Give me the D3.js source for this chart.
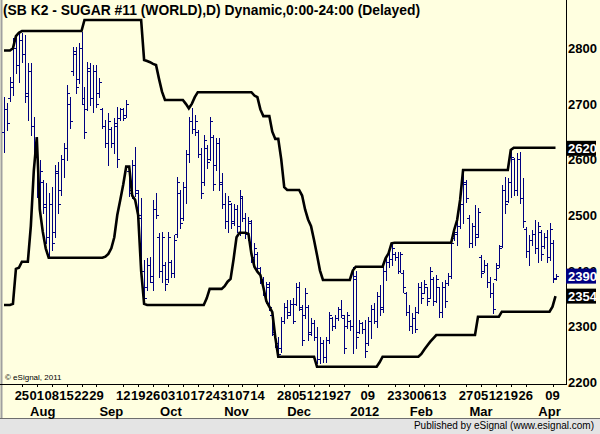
<!DOCTYPE html>
<html><head><meta charset="utf-8">
<script src="https://cdn.jsdelivr.net/npm/d3@7/dist/d3.min.js"></script>
<style>
html,body{margin:0;padding:0;background:#FFFFE0;}
svg{display:block;}
text{font-family:"Liberation Sans",Arial,sans-serif;}
</style></head>
<body><svg id="c" width="600" height="434"></svg>
<script>
// ---- DATA ----
const title = "(SB K2 - SUGAR #11 (WORLD),D) Dynamic,0:00-24:00 (Delayed)";
const startDate = "2011-07-15", endDate = "2012-04-10";
const holidays = ["2011-09-05","2011-11-24","2011-12-26","2012-01-02","2012-01-16","2012-02-20","2012-04-06"];
const yTicks = [2200,2300,2400,2500,2600,2700,2800];
const dayLabels = ["2011-07-25","2011-08-01","2011-08-08","2011-08-15","2011-08-22","2011-08-29","2011-09-12","2011-09-19","2011-09-26","2011-10-03","2011-10-10","2011-10-17","2011-10-24","2011-10-31","2011-11-07","2011-11-14","2011-11-28","2011-12-05","2011-12-12","2011-12-19","2011-12-27","2012-01-09","2012-01-23","2012-01-30","2012-02-06","2012-02-13","2012-02-27","2012-03-05","2012-03-12","2012-03-19","2012-03-26","2012-04-09"];
const monthLabels = [["Aug","2011-08-03"],["Sep","2011-09-06"],["Oct","2011-10-04"],["Nov","2011-11-03"],["Dec","2011-12-05"],["2012","2012-01-06"],["Feb","2012-02-03"],["Mar","2012-03-05"],["Apr","2012-04-05"]];

const highs = [2713,2701,2749,2818,2824,2827,2827,2824,2773,2773, 2677,2641,2599,2563,2557,2539,2551,2590,2596,2608,
 2629,2734,2713,2803,2803,2809,2830,2731,2776,2773, 2770,2770,2746,2692,2671,2683,2659,2674,2695,2692,
 2692,2707,2587,2599,2623,2545,2530,2419,2422,2425, 2527,2540,2467,2470,2416,2470,2419,2464,2569,2545,
 2560,2617,2677,2692,2680,2653,2620,2644,2626,2677, 2644,2639,2639,2576,2540,2535,2522,2520,2518,2545,
 2535,2503,2497,2491,2449,2434,2407,2389,2380,2380, 2323,2287,2281,2317,2341,2347,2347,2350,2377,2380,
 2338,2368,2338,2314,2311,2299,2281,2275,2281,2326, 2317,2320,2335,2347,2320,2326,2311,2407,2400,2311,
 2308,2311,2317,2338,2341,2362,2374,2407,2422,2431, 2449,2434,2434,2434,2401,2362,2338,2323,2335,2377,
 2380,2383,2371,2407,2389,2392,2371,2380,2383,2395, 2455,2473,2491,2527,2581,2563,2500,2485,2518,2512,
 2428,2419,2413,2389,2377,2413,2446,2554,2569,2566, 2617,2602,2611,2614,2566,2479,2464,2473,2491,2488,
 2473,2467,2473,2485,2455,2394];
const lows = [2614,2653,2705,2716,2755,2740,2776,2704,2671,2644, 2605,2533,2500,2503,2449,2422,2437,2461,2503,2536,
 2569,2599,2656,2752,2719,2737,2701,2638,2689,2698, 2686,2695,2713,2656,2623,2590,2623,2611,2587,2671,
 2671,2677,2535,2530,2535,2488,2383,2341,2365,2380, 2365,2494,2389,2380,2365,2380,2389,2389,2461,2476,
 2491,2521,2596,2647,2644,2605,2530,2554,2585,2599, 2545,2581,2545,2512,2476,2470,2476,2482,2470,2464,
 2489,2458,2455,2416,2410,2401,2377,2356,2341,2329, 2284,2263,2245,2254,2305,2314,2320,2305,2338,2329,
 2266,2314,2275,2284,2275,2233,2233,2236,2236,2269, 2293,2296,2311,2317,2251,2296,2293,2251,2260,2287,
 2287,2245,2266,2278,2305,2299,2320,2326,2383,2407, 2410,2419,2395,2398,2362,2320,2293,2287,2290,2323,
 2341,2359,2338,2350,2338,2344,2317,2317,2335,2374, 2386,2455,2446,2476,2485,2524,2443,2443,2446,2461,
 2389,2398,2371,2353,2323,2383,2407,2443,2503,2524, 2533,2536,2536,2521,2479,2425,2410,2446,2431,2416,
 2419,2440,2416,2419,2380,2385];
const opens = [2650,2690,2710,2730,2800,2770,2815,2790,2720,2760, 2660,2620,2545,2560,2520,2460,2520,2470,2575,2545,
 2600,2620,2700,2760,2790,2745,2800,2700,2690,2760, 2710,2760,2720,2690,2660,2630,2655,2630,2660,2675,
 2690,2680,2580,2540,2590,2540,2500,2400,2370,2410, 2380,2510,2460,2400,2410,2385,2415,2395,2465,2540,
 2495,2550,2610,2670,2655,2650,2610,2560,2620,2600, 2640,2590,2630,2560,2520,2490,2520,2490,2510,2480,
 2530,2495,2465,2485,2425,2430,2405,2385,2360,2370, 2320,2285,2270,2260,2310,2335,2325,2340,2340,2370,
 2330,2320,2335,2290,2305,2280,2240,2270,2245,2275, 2315,2300,2315,2330,2315,2300,2310,2300,2385,2290,
 2305,2295,2270,2310,2330,2310,2355,2335,2400,2415, 2420,2430,2425,2400,2395,2360,2325,2300,2315,2325,
 2370,2360,2370,2350,2385,2345,2370,2325,2370,2378, 2390,2458,2465,2480,2520,2555,2495,2450,2480,2465,
 2425,2400,2410,2380,2360,2385,2410,2445,2545,2525, 2560,2600,2545,2600,2530,2475,2435,2455,2465,2440,
 2470,2445,2460,2425,2450,2387];
const closes = [2690,2665,2740,2800,2770,2815,2790,2715,2760,2660, 2620,2545,2580,2515,2460,2520,2450,2580,2520,2600,
 2620,2720,2670,2795,2730,2800,2710,2650,2765,2710, 2760,2700,2740,2660,2630,2670,2630,2665,2600,2690,
 2675,2700,2545,2590,2545,2495,2400,2350,2410,2390, 2510,2500,2400,2460,2375,2460,2395,2455,2560,2485,
 2550,2610,2670,2655,2670,2610,2540,2635,2595,2670, 2555,2630,2555,2520,2490,2525,2485,2510,2480,2535,
 2495,2465,2490,2425,2440,2405,2385,2360,2375,2335, 2290,2270,2250,2310,2335,2320,2340,2310,2370,2335,
 2275,2360,2285,2305,2280,2240,2270,2245,2275,2320, 2300,2315,2330,2320,2260,2320,2300,2390,2280,2305,
 2295,2255,2310,2330,2310,2355,2330,2400,2415,2420, 2440,2425,2400,2430,2370,2325,2300,2315,2295,2370,
 2350,2375,2345,2400,2345,2385,2325,2370,2345,2390, 2450,2470,2480,2520,2560,2530,2450,2480,2460,2505,
 2395,2410,2380,2360,2330,2405,2440,2545,2520,2560, 2605,2545,2600,2530,2490,2435,2455,2465,2440,2480,
 2430,2460,2425,2475,2385,2390];
const upper = [2796,2796,2796,2800,2822,2828,2831,2831,2831,2831, 2831,2831,2831,2831,2831,2831,2831,2831,2831,2831,
 2831,2831,2831,2831,2831,2831,2831,2851,2851,2851, 2851,2851,2851,2851,2851,2851,2851,2851,2851,2851,
 2851,2851,2851,2851,2851,2851,2851,2779,2777,2775, 2772,2770,2745,2722,2707,2707,2707,2707,2707,2707,
 2707,2700,2692,2700,2712,2721,2721,2721,2721,2721, 2721,2721,2721,2721,2721,2721,2721,2721,2721,2721,
 2721,2721,2721,2721,2715,2712,2690,2678,2678,2678, 2650,2637,2637,2600,2550,2545,2545,2545,2545,2545,
 2535,2510,2492,2480,2455,2428,2400,2383,2383,2383, 2383,2383,2383,2383,2383,2383,2383,2400,2407,2407,
 2407,2407,2407,2407,2407,2407,2407,2407,2422,2431, 2449,2450,2450,2450,2450,2450,2450,2450,2450,2450,
 2450,2450,2450,2450,2450,2450,2450,2450,2450,2450, 2450,2473,2491,2527,2581,2581,2581,2581,2581,2581,
 2581,2581,2581,2581,2581,2581,2581,2581,2581,2581, 2617,2621,2621,2621,2621,2621,2621,2621,2621,2621,
 2621,2621,2621,2621,2621,2621];
const lower = [2338,2338,2338,2340,2403,2405,2416,2416,2416,2480, 2580,2640,2510,2470,2440,2423,2423,2423,2423,2423,
 2423,2423,2423,2423,2423,2423,2423,2423,2423,2423, 2423,2423,2423,2423,2425,2430,2440,2460,2500,2527,
 2555,2587,2587,2535,2527,2500,2400,2340,2338,2338, 2338,2338,2338,2338,2338,2338,2338,2338,2338,2338,
 2338,2338,2338,2338,2338,2338,2338,2338,2350,2367, 2367,2367,2367,2367,2372,2380,2385,2420,2460,2468,
 2468,2468,2466,2430,2407,2398,2392,2370,2345,2335, 2325,2280,2245,2245,2245,2245,2245,2245,2245,2245,
 2245,2245,2245,2245,2245,2227,2227,2227,2227,2227, 2227,2227,2227,2227,2227,2227,2227,2227,2227,2227,
 2227,2227,2227,2227,2227,2227,2235,2245,2245,2245, 2245,2245,2245,2245,2245,2245,2245,2245,2245,2245,
 2250,2258,2265,2272,2278,2284,2284,2284,2284,2284, 2284,2284,2284,2284,2284,2284,2284,2284,2284,2317,
 2317,2317,2317,2317,2317,2317,2317,2326,2326,2326, 2326,2326,2326,2326,2326,2326,2326,2326,2326,2326,
 2326,2326,2326,2326,2335,2354];
const markers = [[2620,"#000000"],[2390,"#000080"],[2354,"#000000"]];

// ---- build trading days ----
const fmt = d3.timeFormat("%Y-%m-%d"), parse = d3.timeParse("%Y-%m-%d");
const dates = d3.timeDay.range(parse(startDate), d3.timeDay.offset(parse(endDate),1))
  .filter(d => d.getDay()!==0 && d.getDay()!==6 && !holidays.includes(fmt(d))).map(fmt);
const N = highs.length;
const idxOf = s => dates.indexOf(s);

const svg = d3.select("#c");
const x = d3.scaleLinear().domain([0, N-1]).range([4, 555.5]);
const y = d3.scaleLinear().domain([2200, 2800]).range([381.7, 48.3]);
const bx = i => Math.round(x(i));
const by = v => Math.round(y(v)) + 0.5;

// background / frame
svg.append("rect").attr("width",600).attr("height",434).attr("fill","#FFFFE0");
svg.append("rect").attr("x",0).attr("y",418).attr("width",600).attr("height",16).attr("fill","#E4E4E4");
svg.append("line").attr("x1",0).attr("x2",600).attr("y1",418.5).attr("y2",418.5).attr("stroke","#6E6E6E");
svg.append("line").attr("x1",1.5).attr("x2",1.5).attr("y1",0).attr("y2",418).attr("stroke","#A0A0A0").attr("stroke-width",2);

// OHLC bars
const g = svg.append("g").attr("stroke","#000080").attr("stroke-width",1).attr("shape-rendering","crispEdges");
d3.range(N).forEach(i=>{
  const c = bx(i) + 0.5;
  g.append("line").attr("x1",c).attr("x2",c).attr("y1",Math.round(y(highs[i]))).attr("y2",Math.round(y(lows[i]))+1);
  g.append("line").attr("x1",bx(i)-2).attr("x2",bx(i)).attr("y1",by(opens[i])).attr("y2",by(opens[i]));
  g.append("line").attr("x1",bx(i)+1).attr("x2",bx(i)+3).attr("y1",by(closes[i])).attr("y2",by(closes[i]));
});

// channel lines
const ln = d3.line().x((d,i)=>x(i)).y(d=>y(d));
svg.append("path").attr("d",ln(upper)).attr("fill","none").attr("stroke","#000").attr("stroke-width",2.6);
svg.append("path").attr("d",ln(lower)).attr("fill","none").attr("stroke","#000").attr("stroke-width",2.6);

// axis lines
svg.append("line").attr("x1",566.5).attr("x2",566.5).attr("y1",0).attr("y2",385).attr("stroke","#000");
svg.append("line").attr("x1",0).attr("x2",567).attr("y1",384.5).attr("y2",384.5).attr("stroke","#000");

// y labels
svg.append("g").selectAll("text").data(yTicks).join("text")
  .attr("x",568).attr("y",d=>y(d)+5).attr("font-size",13).attr("font-weight","bold").text(d=>d);
markers.forEach(([v,c])=>{
  svg.append("rect").attr("x",566).attr("y",y(v)-7.5).attr("width",30).attr("height",15).attr("fill",c);
  svg.append("text").attr("x",568).attr("y",y(v)+5).attr("font-size",13).attr("font-weight","bold").attr("fill","#fff").text(v);
});

// x labels
dayLabels.forEach(s=>{
  const i = idxOf(s);
  svg.append("line").attr("x1",bx(i)+0.5).attr("x2",bx(i)+0.5).attr("y1",385).attr("y2",387).attr("stroke","#000");
  svg.append("text").attr("x",x(i)).attr("y",400).attr("text-anchor","middle").attr("font-size",13).attr("font-weight","bold").text(s.slice(8));
});
monthLabels.forEach(([t,s])=>{
  svg.append("text").attr("x",x(idxOf(s))).attr("y",416).attr("text-anchor","middle").attr("font-size",13).attr("font-weight","bold").text(t);
});

// title & notes
svg.append("text").attr("x",3).attr("y",15).attr("font-size",14).attr("font-weight","bold")
  .attr("textLength",417).attr("lengthAdjust","spacingAndGlyphs").text(title);
svg.append("text").attr("x",5).attr("y",380).attr("font-size",8).text("© eSignal, 2011");
svg.append("text").attr("x",594).attr("y",429).attr("text-anchor","end").attr("font-size",10)
  .text("Published by eSignal (www.esignal.com)");
</script></body></html>
